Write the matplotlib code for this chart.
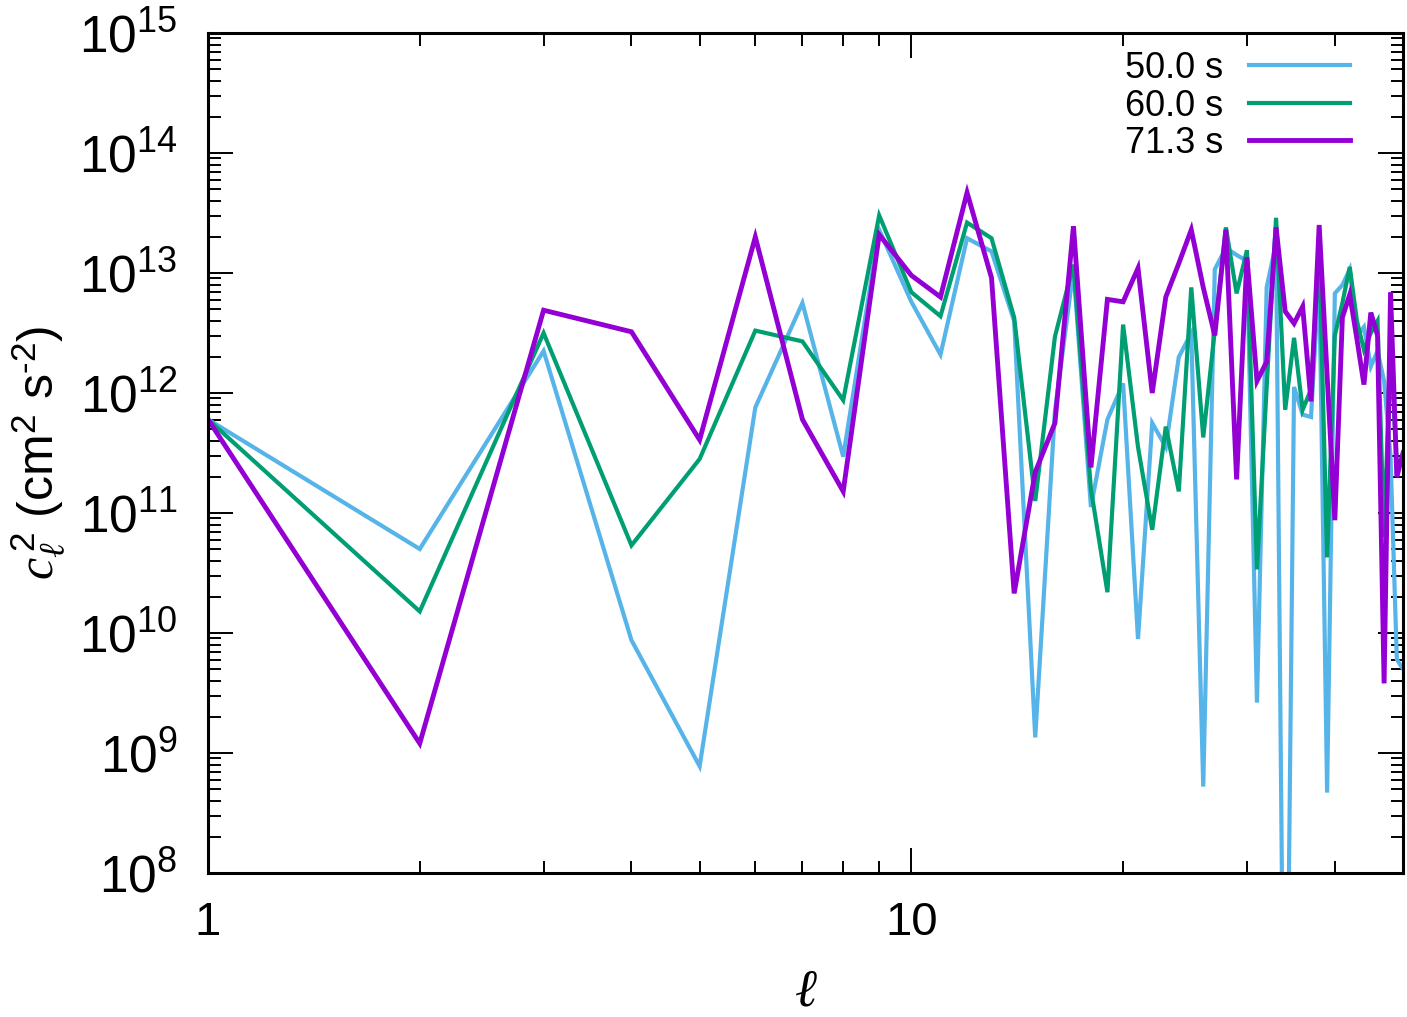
"""Angular power spectrum c_l^2 at three times, log-log."""

import matplotlib
matplotlib.use("Agg")
import matplotlib.pyplot as plt
import numpy as np
from matplotlib.ticker import FixedLocator, FixedFormatter, LogFormatterSciNotation, NullFormatter

plt.rcParams["font.family"] = ["Liberation Sans", "DejaVu Sans"]
plt.rcParams["mathtext.fontset"] = "custom"
plt.rcParams["mathtext.rm"] = "Liberation Sans"
plt.rcParams["mathtext.it"] = "Liberation Serif:italic"

ell = np.arange(1, 51)

# log10 of c_l^2
log_50s = [
    11.78, 10.70, 12.35, 9.94, 8.89, 11.88, 12.75, 11.47, 13.36, 12.76,
    12.32, 13.29, 13.18, 12.60, 9.13, 11.85, 13.03, 11.05, 11.78, 12.08,
    9.95, 11.75, 11.55, 12.30, 12.50, 8.72, 13.03, 13.21, 13.15, 13.10,
    9.42, 12.88, 13.25, 5.00, 12.05, 11.82, 11.80, 13.00, 8.67, 12.83,
    12.90, 13.03, 12.47, 12.55, 12.22, 12.35, 12.10, 11.47, 9.78, 9.70,
]
log_60s = [
    11.78, 10.18, 12.50, 10.73, 11.45, 12.52, 12.43, 11.94, 13.48, 12.84,
    12.64, 13.42, 13.29, 12.63, 11.10, 12.47, 13.07, 11.20, 10.34, 12.57,
    11.55, 10.86, 11.72, 11.18, 12.88, 11.63, 12.52, 13.38, 12.83, 13.19,
    10.53, 12.05, 13.46, 11.86, 12.46, 11.86, 12.03, 13.20, 10.63, 12.48,
    12.75, 13.05, 12.60, 12.36, 12.50, 12.60, 10.80, 12.40, 11.40, 11.40,
]
log_71s = [
    11.78, 9.08, 12.69, 12.51, 11.61, 13.30, 11.78, 11.18, 13.32, 12.98,
    12.80, 13.67, 12.96, 10.33, 11.34, 11.75, 13.39, 11.38, 12.78, 12.76,
    13.04, 12.00, 12.80, 13.08, 13.36, 12.88, 12.48, 13.36, 11.28, 13.13,
    12.10, 12.26, 13.38, 12.68, 12.58, 12.72, 11.93, 13.40, 12.15, 10.94,
    12.63, 12.82, 12.45, 12.07, 12.67, 12.48, 9.58, 12.84, 11.30, 11.50,
]

series = [
    ("50.0 s", log_50s, "#56B4E9", 3.0),
    ("60.0 s", log_60s, "#009E73", 3.0),
    ("71.3 s", log_71s, "#9400D3", 3.5),
]

x_major = [1, 10]
x_major_labels = ["1", "10"]
y_decades = np.arange(8, 16)

fig = plt.figure(figsize=(14.07, 10.17), dpi=100)
ax = fig.add_axes([208 / 1407, 144 / 1017, 1195 / 1407, 840 / 1017])

for label, logs, color, lw in series:
    ax.plot(ell, 10.0 ** np.array(logs), color=color, lw=lw, label=label,
            solid_joinstyle="miter")

ax.set_xscale("log")
ax.set_yscale("log")
ax.set_xlim(1, 50)
ax.set_ylim(1e8, 1e15)

x_minor = [m * d for d in (1, 10) for m in range(2, 10) if m * d < 50]
y_minor = [m * 10.0 ** d for d in y_decades[:-1] for m in range(2, 10)]

ax.xaxis.set_major_locator(FixedLocator(x_major))
ax.xaxis.set_major_formatter(FixedFormatter(x_major_labels))
ax.xaxis.set_minor_locator(FixedLocator(x_minor))
ax.xaxis.set_minor_formatter(NullFormatter())
ax.yaxis.set_major_locator(FixedLocator(10.0 ** y_decades))
ax.yaxis.set_major_formatter(LogFormatterSciNotation())
ax.yaxis.set_minor_locator(FixedLocator(y_minor))
ax.yaxis.set_minor_formatter(NullFormatter())

ax.tick_params(which="both", direction="in", top=True, right=True,
               width=1.4)
ax.tick_params(axis="x", labelsize=34, pad=20)
ax.tick_params(axis="y", labelsize=37, pad=22)
ax.tick_params(which="major", length=18)
ax.tick_params(which="minor", length=9)
for sp in ax.spines.values():
    sp.set_linewidth(2.2)

ax.set_xlabel(r"$\ell$", fontsize=38, labelpad=16)
ax.set_ylabel(r"$c_{\ell}^{\,2}$ (cm$^{2}$ s$^{\text{-}2}$)", fontsize=36, labelpad=8)

ax.legend(loc="upper right", bbox_to_anchor=(1 - 53 / 1195, 1 - 18 / 840),
          frameon=False, fontsize=26, markerfirst=False, handlelength=2.8,
          handletextpad=0.7, labelspacing=0.07, borderpad=0, borderaxespad=0)

fig.savefig("out.png", dpi=100)
